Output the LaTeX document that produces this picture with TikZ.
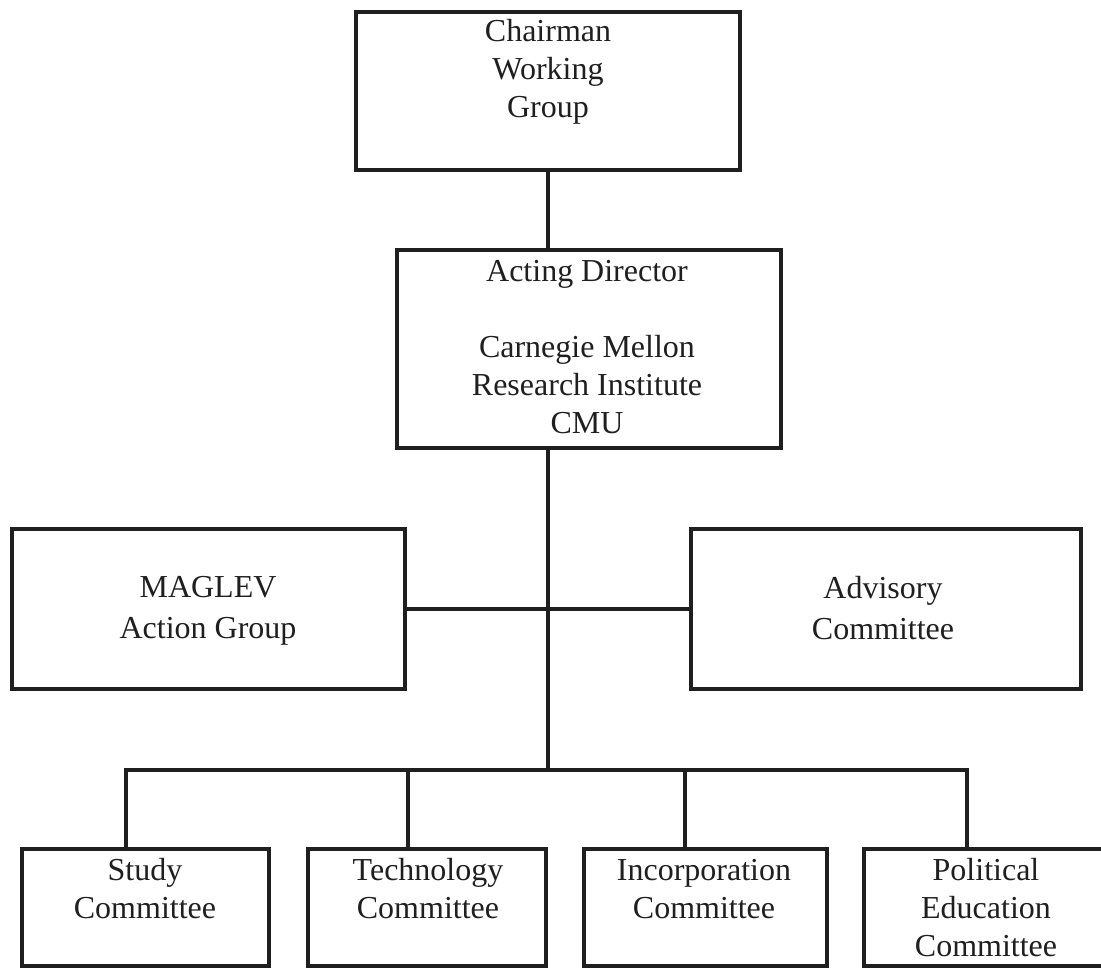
\documentclass[tikz,border=0pt]{standalone}
\usepackage{fontspec}
\setmainfont{Liberation Serif}
\usetikzlibrary{calc}
\begin{document}
\begin{tikzpicture}[x=0.5pt,y=-0.5pt,
  ink/.style={draw=black!88},
  box/.style={ink, line width=2pt, rectangle, inner sep=0pt, outer sep=0pt, fill=none},
  wire/.style={ink, line width=1.8pt, line cap=rect},
  txt/.style={inner sep=0pt, align=center, anchor=base, text=black!88, font=\fontsize{16}{19}\selectfont},
  txtw/.style={txt, font=\fontsize{16}{20.5}\selectfont}]
\useasboundingbox (0,0) rectangle (1101,968);
\clip (0,0) rectangle (1101,968);
% boxes
\node[box, minimum width=192pt, minimum height=79pt] (chair) at (548,91) {};
\node[box, minimum width=192pt, minimum height=99pt] (act) at (589,349) {};
\node[box, minimum width=196.5pt, minimum height=80pt] (mag) at (208.5,609) {};
\node[box, minimum width=195pt, minimum height=80pt] (adv) at (886,609) {};
\node[box, minimum width=123.5pt, minimum height=58.5pt] (study) at (145.5,907.5) {};
\node[box, minimum width=119pt, minimum height=58.5pt] (tech) at (427,907.5) {};
\node[box, minimum width=121.5pt, minimum height=58.5pt] (inc) at (705.5,907.5) {};
\node[box, minimum width=122pt, minimum height=58.5pt] (pol) at (986,907.5) {};
% texts (anchored at the baseline of the last line)
\node[txt] (chairT) at (548,118) {Chairman\\Working\\Group};
\node[txt] (actT) at (587,433) {Acting Director\\[19pt]Carnegie Mellon\\Research Institute\\CMU};
\node[txtw] (magT) at (208,638) {MAGLEV\\Action Group};
\node[txtw] (advT) at (883,639) {Advisory\\Committee};
\node[txt] (studyT) at (145,918) {Study\\Committee};
\node[txt] (techT) at (428,918) {Technology\\Committee};
\node[txt] (incT) at (704,918) {Incorporation\\Committee};
\node[txt] (polT) at (986,956) {Political\\Education\\Committee};
% connectors
\coordinate (hub) at ($(chair.south |- act.south)+(0,322)$);
\coordinate (dS) at ($(study.north)+(-19.5,0)$);
\coordinate (dT) at ($(tech.north)+(-19,0)$);
\coordinate (dI) at ($(inc.north)+(-20.5,0)$);
\coordinate (dP) at ($(pol.north)+(-19,0)$);
\draw[wire] (chair.south) -- (chair.south |- act.north);
\draw[wire] (chair.south |- act.south) -- (hub);
\draw[wire] (mag.east) -- (adv.west);
\draw[wire, line join=miter] (dS) -- (dS |- hub) -- (dP |- hub) -- (dP);
\draw[wire] (dT |- hub) -- (dT);
\draw[wire] (dI |- hub) -- (dI);
\end{tikzpicture}
\end{document}
